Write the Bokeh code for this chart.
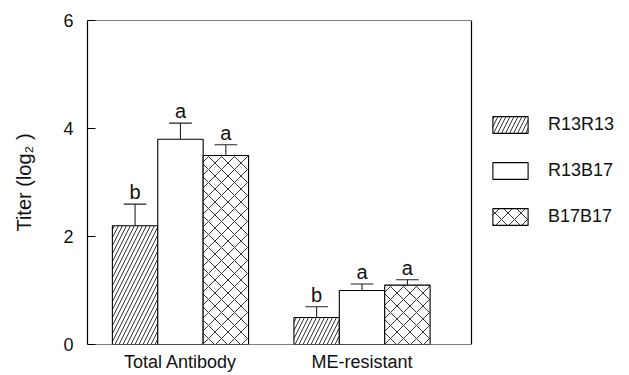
from bokeh.plotting import figure
from bokeh.models import Range1d, FixedTicker, Legend, LegendItem, ColumnDataSource
from bokeh.core.properties import value
from bokeh.embed import file_html
from bokeh.resources import INLINE

categories = ["Total Antibody", "ME-resistant"]
series = ["R13R13", "R13B17", "B17B17"]

r13r13_mean = [2.2, 0.5]
r13r13_err = [0.4, 0.2]
r13r13_sig = ["b", "b"]

r13b17_mean = [3.8, 1.0]
r13b17_err = [0.3, 0.12]
r13b17_sig = ["a", "a"]

b17b17_mean = [3.5, 1.1]
b17b17_err = [0.2, 0.1]
b17b17_sig = ["a", "a"]

y_ticks = [0, 2, 4, 6]

FONT = "Liberation Sans"
BAR_W = 0.25
offsets = [-0.25, 0.0, 0.25]
hatches = ["/", " ", "x"]
hatch_scales = [8, 12, 13]

# plotting box (data units); the frame extends further right to hold the legend
X0, X1 = -0.512, 1.603
Y0, Y1 = 0, 6
XEND = X0 + (629 - 10 - 87) / (384 / (X1 - X0))

p = figure(width=629, height=375, output_backend="svg", toolbar_location=None,
           title=None, x_range=Range1d(X0, XEND), y_range=Range1d(Y0, Y1),
           min_border_left=87, min_border_right=10, min_border_top=20,
           min_border_bottom=31)
p.xgrid.visible = False
p.ygrid.visible = False
p.outline_line_color = None
p.background_fill_color = "white"
p.border_fill_color = "white"

# box border: top, right, bottom
p.segment(x0=[X0, X1, X0], y0=[Y1, Y0, Y0], x1=[X1, X1, X1], y1=[Y1, Y1, Y0],
          line_color="black", line_width=1.2)

data = [(r13r13_mean, r13r13_err, r13r13_sig),
        (r13b17_mean, r13b17_err, r13b17_sig),
        (b17b17_mean, b17b17_err, b17b17_sig)]

renderers = []
for i, (means, errs, sigs) in enumerate(data):
    xs = [g + offsets[i] for g in range(len(categories))]
    tops = [m + e for m, e in zip(means, errs)]
    src = ColumnDataSource(dict(x=xs, top=means, etop=tops, sig=sigs,
                                cl=[x - BAR_W / 4 for x in xs],
                                cr=[x + BAR_W / 4 for x in xs]))
    r = p.vbar(x="x", top="top", bottom=0, width=BAR_W, source=src,
               fill_color="white", line_color="black", line_width=1.1,
               hatch_pattern=hatches[i], hatch_scale=hatch_scales[i],
               hatch_color="black", hatch_weight=0.8)
    renderers.append(r)
    p.segment(x0="x", y0="top", x1="x", y1="etop", source=src,
              line_color="#222222", line_width=1.1)
    p.segment(x0="cl", y0="etop", x1="cr", y1="etop", source=src,
              line_color="#222222", line_width=1.1)
    p.text(x="x", y="etop", text="sig", source=src, text_align="center",
           text_baseline="bottom", y_offset=-1,
           text_font=value(FONT), text_font_size="20px", text_color="#111111")

yax = p.yaxis[0]
yax.ticker = FixedTicker(ticks=y_ticks)
yax.major_tick_in = 8
yax.major_tick_out = 0
yax.minor_tick_line_color = None
yax.major_label_standoff = 14
yax.major_label_text_font = FONT
yax.major_label_text_font_size = "18px"
yax.major_label_text_color = "#111111"
yax.axis_label = "Titer (log\u2082 )"
yax.axis_label_text_font = FONT
yax.axis_label_text_font_size = "20px"
yax.axis_label_text_font_style = "normal"
yax.axis_label_text_color = "#111111"
yax.axis_label_standoff = 25
yax.axis_line_color = "black"
yax.axis_line_width = 1.2
yax.major_tick_line_color = "black"

xax = p.xaxis[0]
xax.ticker = FixedTicker(ticks=list(range(len(categories))))
xax.major_label_overrides = {i: c for i, c in enumerate(categories)}
xax.major_tick_in = 0
xax.major_tick_out = 0
xax.minor_tick_line_color = None
xax.major_label_standoff = 7
xax.major_label_text_font = FONT
xax.major_label_text_font_size = "18px"
xax.major_label_text_color = "#111111"
xax.axis_line_color = None

legend = Legend(items=[LegendItem(label=s, renderers=[r]) for s, r in zip(series, renderers)],
                location=(401, 117), orientation="vertical",
                glyph_width=44, glyph_height=21, spacing=25, padding=0, margin=0,
                label_standoff=16, border_line_color=None, background_fill_alpha=0,
                label_text_font=FONT, label_text_font_size="18px",
                label_text_color="#111111")
p.add_layout(legend, "center")

open("out.html", "w").write(file_html(p, INLINE))
